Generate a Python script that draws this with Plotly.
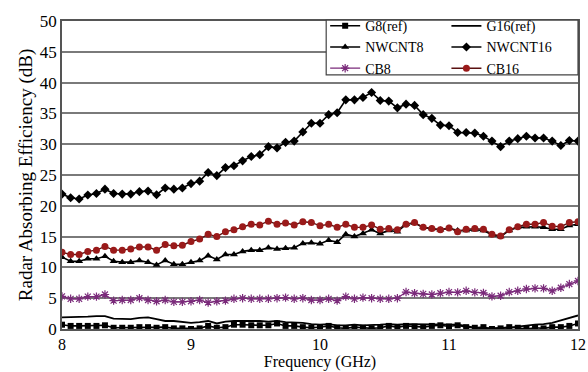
import plotly.graph_objects as go

freq = [8.000, 8.067, 8.133, 8.200, 8.267, 8.333, 8.400, 8.467, 8.533, 8.600,
        8.667, 8.733, 8.800, 8.867, 8.933, 9.000, 9.067, 9.133, 9.200, 9.267,
        9.333, 9.400, 9.467, 9.533, 9.600, 9.667, 9.733, 9.800, 9.867, 9.933,
        10.000, 10.067, 10.133, 10.200, 10.267, 10.333, 10.400, 10.467, 10.533, 10.600,
        10.667, 10.733, 10.800, 10.867, 10.933, 11.000, 11.067, 11.133, 11.200, 11.267,
        11.333, 11.400, 11.467, 11.533, 11.600, 11.667, 11.733, 11.800, 11.867, 11.933,
        12.000]

g8 = [0.7, 0.5, 0.5, 0.5, 0.5, 0.6,
      0.2, 0.2, 0.2, 0.3, 0.3, 0.2,
      0.3, 0.1, 0.1, 0.0, 0.1, 0.5, 0.2,
      0.3, 0.7, 0.7, 0.6, 0.6, 0.6, 0.9, 0.5,
      0.5, 0.3, 0.2, 0.3, 0.5, 0.2, 0.1, 0.3, 0.2, 0.1, 0.2, 0.5,
      0.3, 0.5, 0.4, 0.3, 0.5, 0.6, 0.4, 0.6, 0.3, 0.2, 0.3, 0.0, 0.1, 0.3, 0.2,
      0.0, 0.2, 0.1, 0.3, 0.3, 0.5, 0.9]

g16 = [1.9, 1.9, 2.0, 2.0, 2.1, 2.1,
       1.7, 1.6, 1.6, 1.8, 1.9, 1.6,
       1.3, 1.3, 1.1, 1.0, 1.1, 1.3, 0.9,
       1.2, 1.3, 1.3, 1.4, 1.3, 1.2, 1.3, 1.1,
       1.1, 1.0, 0.8, 0.7, 0.8, 0.6, 0.6, 0.7, 0.6, 0.6, 0.7, 0.8,
       0.7, 0.8, 0.8, 0.7, 0.8, 0.8, 0.7, 0.7, 0.5,
       0.2, 0.1, 0.1, 0.1, 0.2, 0.4, 0.6, 0.7, 0.8, 1.0, 1.4, 1.8, 2.2]

nwcnt8 = [11.65, 11.0, 11.0, 11.4, 11.4, 11.8, 11.0, 10.85, 10.85, 11.1,
          10.85, 10.4, 11.1, 10.5, 10.5, 10.85, 11.1, 11.9, 11.3, 12.1,
          12.1, 12.6, 12.8, 12.8, 13.2, 13.0, 13.1, 13.2, 13.9, 14.0,
          13.85, 14.4, 14.1, 15.4, 15.0, 15.5, 16.1, 15.5, 16.0, 15.8,
          17.0, 17.2, 16.5, 16.3, 16.1, 16.4, 16.0, 16.0, 16.1, 16.0,
          15.3, 15.0, 16.0, 16.5, 16.6, 16.6, 16.5, 16.2, 16.2, 16.8, 17.0]

nwcnt16 = [21.9, 21.3, 21.1, 21.75, 22.0, 22.7, 22.0, 21.9, 21.9, 22.3,
           22.4, 21.8, 22.9, 22.7, 22.9, 23.6, 24.0, 25.4, 24.9, 26.2,
           26.5, 27.3, 28.0, 28.3, 29.6, 29.4, 30.3, 30.5, 32.0,
           33.4, 33.4, 34.8, 35.1, 37.2, 37.2, 37.6, 38.4, 37.1, 37.0, 35.9,
           36.5, 36.3, 34.8, 34.2, 33.1, 33.0, 31.9, 31.9, 31.8, 31.3,
           30.5, 29.6, 30.5, 30.9, 31.3, 31.0, 31.0, 30.5, 29.8, 30.6, 30.5]

cb8 = [5.3, 4.9, 4.9, 5.25, 5.25, 5.6, 4.6, 4.7, 4.7, 5.0,
       4.7, 4.5, 4.7, 4.4, 4.4, 4.5, 4.7, 4.3, 4.5, 4.6,
       4.9, 5.0, 4.9, 4.9, 4.9, 5.0, 5.1, 4.9, 5.0, 4.7, 4.7,
       4.9, 4.6, 5.25, 4.9, 5.1, 5.0, 4.9, 4.9, 5.0, 6.0,
       5.8, 5.7, 5.6, 5.8, 6.0, 5.95, 6.2, 5.95, 5.85, 5.3,
       5.4, 6.0, 6.2, 6.5, 6.6, 6.6, 6.2, 6.7, 7.3, 7.8]

cb16 = [12.45, 12.1, 12.1, 12.6, 12.8, 13.4, 12.8, 12.8, 13.0, 13.3,
        13.3, 12.8, 13.7, 13.5, 13.6, 14.2, 14.6, 15.4, 15.0, 15.8,
        16.1, 16.6, 17.0, 16.9, 17.5, 17.0, 17.2, 16.9, 17.4, 17.3,
        16.75, 17.0, 16.5, 17.0, 16.5, 16.5, 16.9, 16.2, 16.3, 16.1,
        17.0, 17.3, 16.5, 16.3, 16.1, 16.4, 15.8, 16.2, 16.3, 16.2,
        15.4, 15.1, 16.1, 16.6, 17.0, 17.0, 17.3, 16.7, 16.6, 17.3, 17.4]

x_ticks = [8, 9, 10, 11, 12]
y_ticks = [0, 5, 10, 15, 20, 25, 30, 35, 40, 45, 50]

FONT = "Liberation Serif"
fig = go.Figure()

fig.add_trace(go.Scatter(x=freq, y=g16, name="G16(ref)", mode="lines",
                         line=dict(color="black", width=1.8), legend="legend2", legendrank=1))
fig.add_trace(go.Scatter(x=freq, y=g8, name="G8(ref)", mode="lines+markers",
                         line=dict(color="black", width=1.6),
                         marker=dict(symbol="square", size=6, color="black"),
                         legend="legend", legendrank=1))
fig.add_trace(go.Scatter(x=freq, y=cb8, name="CB8", mode="lines+markers",
                         line=dict(color="#7a2a7a", width=1.3),
                         marker=dict(symbol="asterisk-open", size=7,
                                     line=dict(color="#b040b0", width=1.2)),
                         legend="legend", legendrank=3))
fig.add_trace(go.Scatter(x=freq, y=nwcnt8, name="NWCNT8", mode="lines+markers",
                         line=dict(color="black", width=1.6),
                         marker=dict(symbol="triangle-up", size=7, color="black"),
                         legend="legend", legendrank=2))
fig.add_trace(go.Scatter(x=freq, y=cb16, name="CB16", mode="lines+markers",
                         line=dict(color="#5a1010", width=1.4),
                         marker=dict(symbol="circle", size=7, color="#9a1a1a"),
                         legend="legend2", legendrank=3))
fig.add_trace(go.Scatter(x=freq, y=nwcnt16, name="NWCNT16", mode="lines+markers",
                         line=dict(color="black", width=1.6),
                         marker=dict(symbol="diamond", size=7, color="black"),
                         legend="legend2", legendrank=2))

legend_common = dict(font=dict(family=FONT, size=14, color="black"),
                     bgcolor="rgba(0,0,0,0)", borderwidth=0,
                     yanchor="top", xanchor="left", traceorder="normal",
                     tracegroupgap=0, itemwidth=30)

fig.update_layout(
    width=588, height=372,
    margin=dict(l=62, r=10, t=18, b=43),
    paper_bgcolor="white", plot_bgcolor="white",
    font=dict(family=FONT, size=15, color="black"),
    showlegend=True,
    legend=dict(x=0.51, y=1.035, **legend_common),
    legend2=dict(x=0.745, y=1.035, **legend_common),
    xaxis=dict(range=[8, 12], tickvals=x_ticks, ticktext=[str(v) for v in x_ticks],
               showgrid=False, zeroline=False, showline=True, linecolor="#555",
               linewidth=1.5, mirror=True, ticks="", automargin=False,
               tickfont=dict(family=FONT, size=16),
               title=dict(text="Frequency (GHz)", font=dict(family=FONT, size=16), standoff=0)),
    yaxis=dict(range=[0, 50], tickvals=y_ticks, ticktext=[str(v) for v in y_ticks],
               showgrid=True, gridcolor="#7a7a7a", gridwidth=1.5, zeroline=False,
               showline=True, linecolor="#555", linewidth=1.5, mirror=True, ticks="",
               automargin=False,
               tickfont=dict(family=FONT, size=17),
               title=dict(text="Radar Absorbing Efficiency (dB)", font=dict(family=FONT, size=19), standoff=2)),
    shapes=[dict(type="rect", xref="paper", yref="paper", x0=0.512, x1=1.0, y0=0.825, y1=1.003,
                 line=dict(color="#444", width=1.2), fillcolor="white", layer="above")],
)

fig.write_html("out.html", config={"displayModeBar": False},
               post_script="document.body.style.margin='0px';document.body.style.padding='0px';")
